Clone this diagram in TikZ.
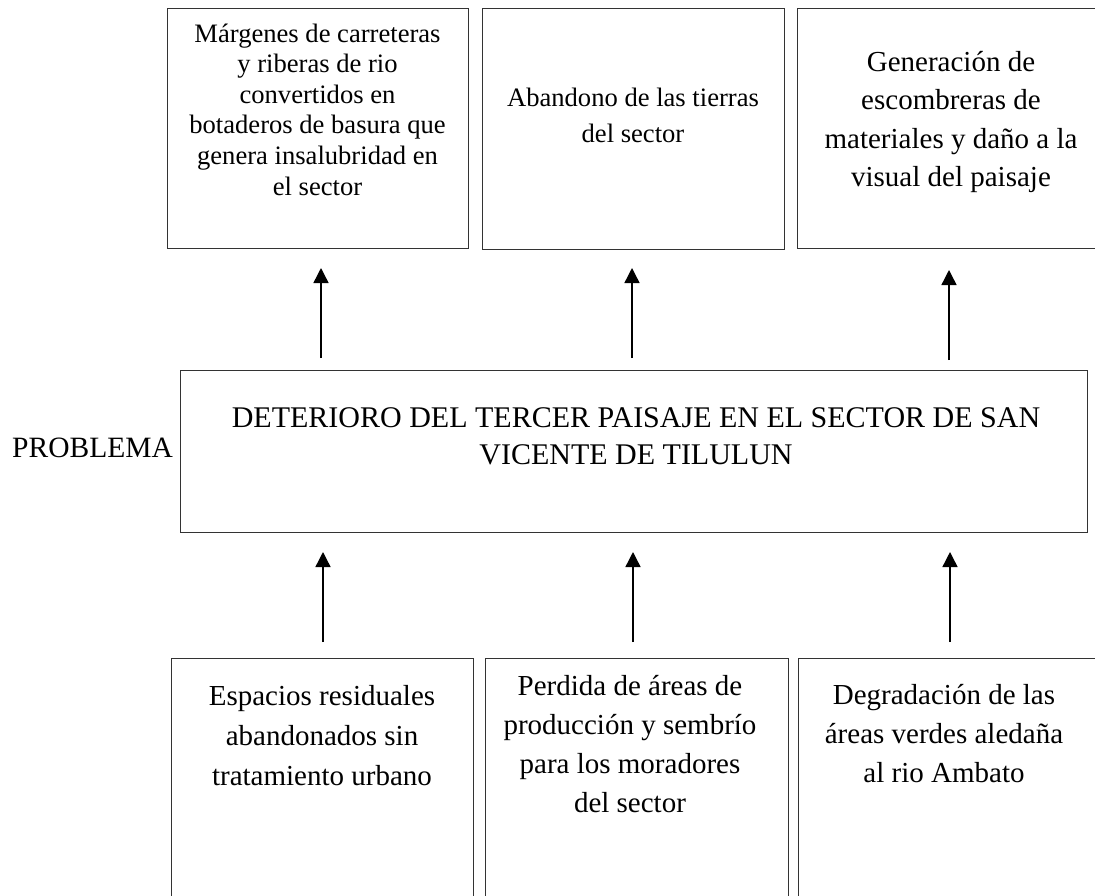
\documentclass[tikz,border=0pt]{standalone}
\usepackage{fontspec}
\setmainfont{Liberation Serif}
\usetikzlibrary{arrows.meta}
\newcommand\setfs[2]{\fontsize{#1pt}{#2pt}\selectfont}
\begin{document}
\begin{tikzpicture}[x=1pt,y=-1pt,
  box/.style={draw=black!80,line width=1pt,inner sep=0pt},
  txt/.style={anchor=north,inner sep=0pt,align=center},
  arr/.style={line width=1.4pt,-{Triangle[length=15pt,width=15pt]}}]
\useasboundingbox (0,0) rectangle (1095,895);
% top boxes
\node[box,minimum width=301pt,minimum height=240pt] (t1) at (317.5,128) {};
\node[box,minimum width=302pt,minimum height=241pt] (t2) at (633,128.5) {};
\node[box,minimum width=300pt,minimum height=240pt] (t3) at (947,128) {};
\node[txt,font=\setfs{26.6}{30.6}] (t1txt) at (317.5,20.4) {\strut M\'argenes de carreteras\\y riberas de rio\\convertidos en\\botaderos de basura que\\genera insalubridad en\\el sector};
\node[txt,font=\setfs{26.6}{36}] (t2txt) at (633,81.5) {\strut Abandono de las tierras\\del sector};
\node[txt,font=\setfs{29}{38.5}] (t3txt) at (951,44) {\strut Generaci\'on de\\escombreras de\\materiales y da\~no a la\\visual del paisaje};
% middle box
\node[box,minimum width=907pt,minimum height=162pt] (mid) at (633.5,451) {};
\node[txt,font=\setfs{30}{37}] (midtxt) at (636,401.5) {\strut DETERIORO DEL TERCER PAISAJE EN EL SECTOR DE SAN\\VICENTE DE TILULUN};
\node[anchor=base west,inner sep=0pt,font=\setfs{29.5}{37}] (prob) at (12,457) {PROBLEMA};
% bottom boxes
\node[box,minimum width=302pt,minimum height=242pt] (b1) at (322,779) {};
\node[box,minimum width=303pt,minimum height=242pt] (b2) at (636.5,779) {};
\node[box,minimum width=299pt,minimum height=242pt] (b3) at (947.5,779) {};
\node[txt,font=\setfs{29}{40}] (b1txt) at (322,677.5) {\strut Espacios residuales\\abandonados sin\\tratamiento urbano};
\node[txt,font=\setfs{29}{39}] (b2txt) at (630,667.5) {\strut Perdida de \'areas de\\producci\'on y sembr\'io\\para los moradores\\del sector};
\node[txt,font=\setfs{29}{39}] (b3txt) at (944,676.5) {\strut Degradaci\'on de las\\\'areas verdes aleda\~na\\al rio Ambato};
% arrows
\coordinate (u1s) at (321,358); \coordinate (u1e) at (321,268);
\coordinate (u2s) at (632,358); \coordinate (u2e) at (632,268);
\coordinate (u3s) at (949,360); \coordinate (u3e) at (949,270);
\coordinate (l1s) at (323,642); \coordinate (l1e) at (323,552);
\coordinate (l2s) at (633,642); \coordinate (l2e) at (633,552);
\coordinate (l3s) at (950,642); \coordinate (l3e) at (950,552);
\draw[arr] (u1s) -- (u1e);
\draw[arr] (u2s) -- (u2e);
\draw[arr] (u3s) -- (u3e);
\draw[arr] (l1s) -- (l1e);
\draw[arr] (l2s) -- (l2e);
\draw[arr] (l3s) -- (l3e);
\end{tikzpicture}
\end{document}
